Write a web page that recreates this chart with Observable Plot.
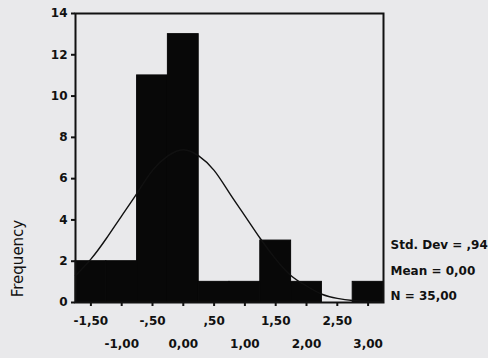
<!DOCTYPE html>
<html>
<head>
<meta charset="utf-8">
<script src="https://cdn.jsdelivr.net/npm/d3@7"></script>
<script src="https://cdn.jsdelivr.net/npm/@observablehq/plot@0.6"></script>
<style>
  html, body { margin: 0; padding: 0; background: #e9e9eb; }
  #chart { width: 488px; height: 358px; }
</style>
</head>
<body>
<div id="chart"></div>
<script>
// Histogram bins (lower edges, width 0.5) and frequencies
const binLo = [-1.75, -1.25, -0.75, -0.25, 0.25, 0.75, 1.25, 1.75, 2.25, 2.75];
const binWidth = 0.5;
const counts = [2, 2, 11, 13, 1, 1, 3, 1, 0, 1];

// Fitted normal curve
const curveX = [-1.75, -1.5, -1.25, -1.0, -0.75, -0.5, -0.25, 0, 0.25, 0.5, 0.75, 1.0, 1.25, 1.5, 1.75, 2.0, 2.25, 2.5, 2.75, 3.0, 3.25];
const curveY = [1.3, 2.1, 3.1, 4.2, 5.3, 6.4, 7.1, 7.4, 7.1, 6.4, 5.3, 4.2, 3.1, 2.1, 1.3, 0.8, 0.4, 0.2, 0.1, 0.05, 0.02];

// Tick labels
const xTicksRow1 = [-1.5, -0.5, 0.5, 1.5, 2.5];
const xTicksRow2 = [-1, 0, 1, 2, 3];
const yTicks = [0, 2, 4, 6, 8, 10, 12, 14];

// Statistics legend
const statsLines = ["Std. Dev = ,94", "Mean = 0,00", "N = 35,00"];
const statsY = [2.8, 1.5, 0.3];

const yLabel = "Frequency";

const bins = binLo.map((lo, i) => ({x1: lo, x2: lo + binWidth, count: counts[i]}));
const curve = curveX.map((x, i) => ({x, y: curveY[i]}));
const stats = statsLines.map((t, i) => ({t, y: statsY[i]}));

function fmt(d) {
  let s = Math.abs(d).toFixed(2).replace(".", ",");
  if (Math.abs(d) < 1 && d !== 0) s = s.replace(/^0/, "");
  return (d < 0 ? "-" : "") + s;
}

const chart = Plot.plot({
  width: 488,
  height: 358,
  marginLeft: 75,
  marginRight: 105,
  marginTop: 13,
  marginBottom: 56,
  x: {domain: [-1.75, 3.25]},
  y: {domain: [0, 14]},
  style: {background: "transparent", fontFamily: "DejaVu Sans", fontWeight: "bold", fontSize: "12px", color: "#111"},
  marks: [
    Plot.rectY(bins, {x1: "x1", x2: "x2", y: "count", fill: "#080808", stroke: "#080808", insetLeft: 0, insetRight: 0}),
    Plot.line(curve, {x: "x", y: "y", stroke: "#111", strokeWidth: 1.4, curve: "natural"}),
    Plot.frame({stroke: "#111", strokeWidth: 2}),
    Plot.axisY({ticks: yTicks, tickSize: 4, tickPadding: 4, tickFormat: d => String(d), label: null, strokeWidth: 2}),
    Plot.axisX({ticks: xTicksRow1, tickSize: 4, tickPadding: 10, tickFormat: fmt, label: null, strokeWidth: 2}),
    Plot.axisX({ticks: xTicksRow2, tickSize: 4, tickPadding: 33, tickFormat: fmt, label: null, strokeWidth: 2}),
    Plot.text([yLabel], {frameAnchor: "bottom-left", dx: -57, dy: -44, rotate: -90, textAnchor: "middle", lineAnchor: "middle", fontSize: 15, fontWeight: "normal", fill: "#111", text: d => d}),
    Plot.text(stats, {x: () => 3.25, y: "y", text: "t", dx: 7, textAnchor: "start", lineAnchor: "middle", fontSize: 12, fill: "#111"})
  ]
});
document.getElementById("chart").appendChild(chart);
</script>
</body>
</html>
